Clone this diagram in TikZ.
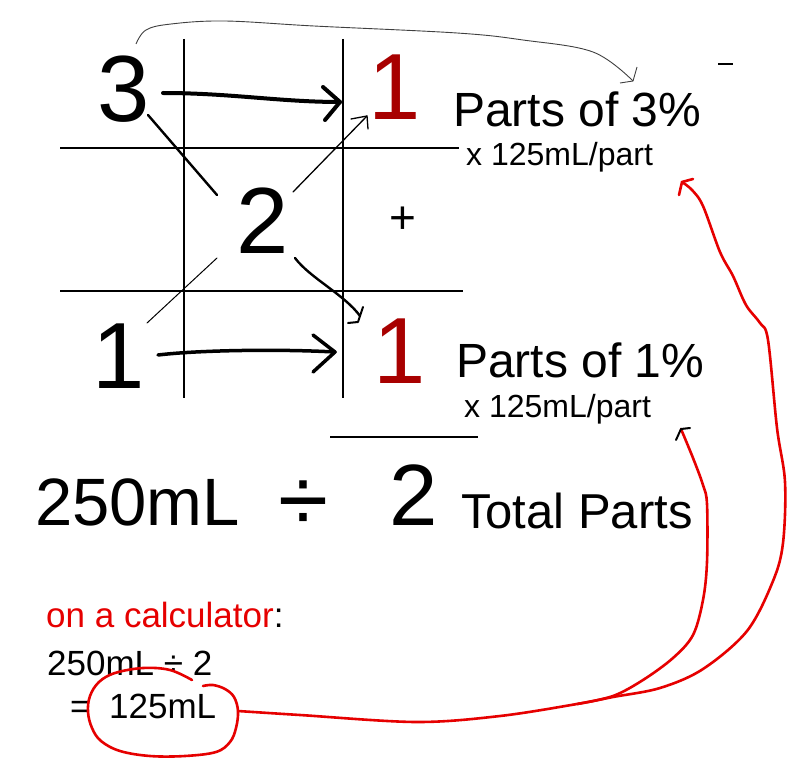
\documentclass[tikz,border=0pt]{standalone}
\usepackage{fontspec}
\setmainfont{Liberation Sans}
\definecolor{darkred}{HTML}{A80000}
\definecolor{penred}{HTML}{E60000}
\begin{document}
\begin{tikzpicture}[x=1pt,y=-1pt,
  txt/.style={inner sep=0pt, anchor=base west},
  bignum/.style={txt, font=\fontsize{94}{94}\selectfont},
  label/.style={txt, font=\fontsize{48}{48}\selectfont},
  small/.style={txt, font=\fontsize{32}{32}\selectfont},
  calc/.style={txt, font=\fontsize{35}{35}\selectfont},
  grid/.style={line width=2.3pt, black},
  thick arrow/.style={line width=4pt, black, line cap=round, line join=round},
  thin arrow/.style={line width=1.3pt, black, line cap=round, line join=round},
  pen/.style={line width=2.6pt, penred, line cap=round, line join=round}]
\useasboundingbox (0,0) rectangle (803,765);
\fill[white] (0,0) rectangle (803,765);

% grid
\coordinate (v1t) at (184,39); \coordinate (v1b) at (184,398);
\coordinate (v2t) at (343,39); \coordinate (v2b) at (343,398);
\coordinate (h1l) at (60,148); \coordinate (h1r) at (459,148);
\coordinate (h2l) at (60,291); \coordinate (h2r) at (463,291);
\coordinate (h3l) at (330,437); \coordinate (h3r) at (478,437);
\draw[grid] (v1t) -- (v1b);
\draw[grid] (v2t) -- (v2b);
\draw[grid] (h1l) -- (h1r);
\draw[grid] (h2l) -- (h2r);
\draw[grid] (h3l) -- (h3r);
\coordinate (dashl) at (718,64); \coordinate (dashr) at (733,64);
\draw[line width=1.5pt] (dashl) -- (dashr);

% numbers
\node[bignum] (three) at (97,122) {3};
\node[bignum, text=darkred] (oneA) at (368,120) {1};
\node[bignum] (two) at (236,253) {2};
\node[bignum] (oneL) at (92,388) {1};
\node[bignum, text=darkred] (oneB) at (373,383) {1};
\node[txt, font=\fontsize{46}{46}\selectfont, anchor=base] (plus) at (403,233) {+};

% labels
\node[label] (p3) at (453,127) {Parts of 3\%};
\node[small] (m3) at (466,165) {x 125mL/part};
\node[label] (p1) at (456,377) {Parts of 1\%};
\node[small] (m1) at (464,417) {x 125mL/part};

% bottom equation
\node[txt, font=\fontsize{67}{67}\selectfont] (vol) at (35,525) {250mL};
\node[txt, font=\fontsize{91}{91}\selectfont] (div) at (278,531) {÷};
\node[txt, font=\fontsize{87}{87}\selectfont] (tot) at (389,525) {2};
\node[txt, font=\fontsize{49}{49}\selectfont] (tp) at (461,528) {Total Parts};

% calculator
\node[calc] (oncalc) at (46,627) {\textcolor{penred}{on a calculator}:};
\node[calc] (calc1) at (47,675) {250mL ÷ 2};
\node[calc] (eq) at (70,718) {=};
\node[calc] (res) at (109,718) {125mL};

% arrows in the grid
\coordinate (a1s) at (163,93); \coordinate (a1e) at (340,102);
\draw[thick arrow] (a1s) .. controls (230,93) and (280,102) .. (a1e);
\draw[thick arrow] (323,87) -- (a1e) -- (325,120);
\coordinate (a2s) at (158,355); \coordinate (a2e) at (335,352);
\draw[line width=3.5pt, line cap=round, line join=round] (a2s) .. controls (200,350) and (280,349) .. (a2e);
\draw[line width=3.5pt, line cap=round, line join=round] (313,335) -- (a2e) -- (313,372);

\coordinate (d1s) at (148,115); \coordinate (d1e) at (217,195);
\draw[line width=2.4pt, line cap=round] (d1s) -- (d1e);
\coordinate (d2s) at (147,323); \coordinate (d2e) at (217,258);
\draw[line width=1pt, line cap=round] (d2s) -- (d2e);
\coordinate (d3s) at (293,192); \coordinate (d3e) at (367,116);
\draw[thin arrow] (d3s) -- (d3e);
\draw[thin arrow] (351,119) -- (d3e) -- (368,129);
\coordinate (d4s) at (295,258); \coordinate (d4e) at (360,316);
\draw[line width=2.4pt, line cap=round, line join=round] (d4s) .. controls (310,278) and (345,295) .. (d4e);
\draw[line width=2pt, line cap=round, line join=round] (363,307) -- (358,322) -- (348,323);

% gray curve over the top
\coordinate (gs) at (136,44); \coordinate (ge) at (633,81);
\draw[line width=0.9pt, black!75] plot[smooth, tension=0.6] coordinates
  {(gs) (146,30) (171,24) (225,21) (314,26) (457,33) (523,40) (593,52) (ge)};
\draw[line width=0.9pt, black!75, line join=round] (637,67) -- (ge) -- (620,83);

% red loop around result
\coordinate (cs) at (192,680); \coordinate (ce) at (203,686);
\draw[pen] plot[smooth, tension=0.6] coordinates
  {(cs) (170,670) (143,668) (115,673) (99,682) (90,696) (88,712) (92,728) (101,741) (120,751) (150,756) (185,756) (216,752) (230,742) (236,728) (238,711) (234,697) (225,689) (213,685) (ce)};

% red connectors to the labels
\coordinate (rj) at (238,711);
\coordinate (rt1) at (682,182);
\coordinate (rt2) at (681,429);
\draw[pen] plot[smooth, tension=0.55] coordinates
  {(rj) (300,715) (416,722) (500,716) (577,704) (613,697) (660,688) (703,669) (747,631) (773,581) (783,543) (785,482) (777,428) (768,340) (760,323) (746,305) (733,276) (720,252) (703,206) (692,190) (rt1)};
\draw[pen] (679,195) -- (rt1) -- (693,179);
\draw[pen] plot[smooth, tension=0.55] coordinates
  {(577,704) (613,696) (643,680) (673,658) (693,635) (703,600) (707,562) (707,504) (703,485) (693,458) (rt2)};
\draw[line width=2pt, black, line cap=round, line join=round] (676,440) -- (rt2) -- (690,428);
\end{tikzpicture}
\end{document}
